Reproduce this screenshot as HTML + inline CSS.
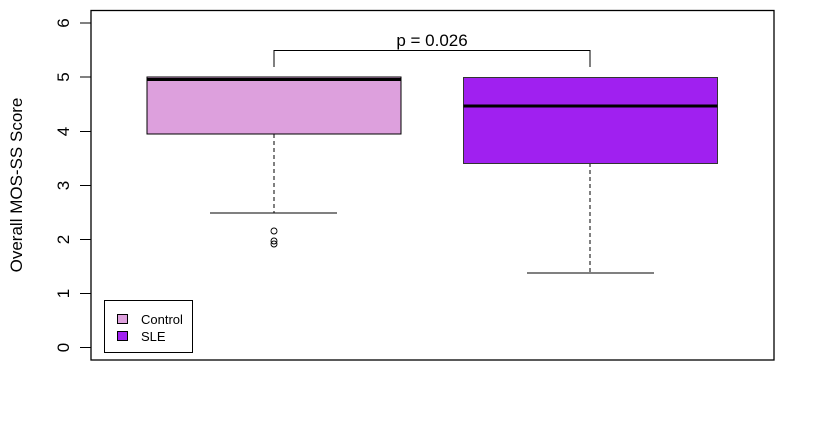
<!DOCTYPE html>
<html><head><style>body{margin:0;background:#fff}</style></head><body>
<svg width="820" height="436" xmlns="http://www.w3.org/2000/svg" font-family="Liberation Sans, sans-serif">
<rect width="820" height="436" fill="#fff"/>
<rect x="91" y="10.5" width="683" height="349.5" fill="none" stroke="#000" stroke-width="1.3"/>
<g stroke="#000" stroke-width="1">
<line x1="80" y1="23" x2="91" y2="23"/><line x1="80" y1="77" x2="91" y2="77"/>
<line x1="80" y1="131.5" x2="91" y2="131.5"/><line x1="80" y1="185.5" x2="91" y2="185.5"/>
<line x1="80" y1="239.5" x2="91" y2="239.5"/><line x1="80" y1="293.5" x2="91" y2="293.5"/>
<line x1="80" y1="347.5" x2="91" y2="347.5"/>
</g>
<g font-size="17" text-anchor="middle" fill="#000">
<text transform="translate(69,23) rotate(-90)">6</text>
<text transform="translate(69,77) rotate(-90)">5</text>
<text transform="translate(69,131.5) rotate(-90)">4</text>
<text transform="translate(69,185.5) rotate(-90)">3</text>
<text transform="translate(69,239.5) rotate(-90)">2</text>
<text transform="translate(69,293.5) rotate(-90)">1</text>
<text transform="translate(69,347.5) rotate(-90)">0</text>
<text transform="translate(22,185) rotate(-90)">Overall MOS-SS Score</text>
</g>
<line x1="274" y1="134" x2="274" y2="213" stroke="#000" stroke-dasharray="4,3"/>
<line x1="210" y1="213" x2="337" y2="213" stroke="#000"/>
<rect x="147" y="77" width="254" height="57" fill="#dda0dd" stroke="#000"/>
<line x1="147" y1="79.5" x2="401" y2="79.5" stroke="#000" stroke-width="3"/>
<g fill="none" stroke="#000" stroke-width="0.9">
<circle cx="274" cy="231" r="3"/><circle cx="274" cy="241" r="3"/><circle cx="274" cy="244" r="3"/>
</g>
<line x1="590" y1="163" x2="590" y2="273" stroke="#000" stroke-dasharray="4,3"/>
<line x1="527" y1="273" x2="654" y2="273" stroke="#000"/>
<rect x="463.5" y="77.5" width="254" height="86" fill="#a020f0" stroke="#333"/>
<line x1="463.5" y1="106" x2="717.5" y2="106" stroke="#000" stroke-width="3"/>
<polyline points="274,67 274,50.5 590,50.5 590,67" fill="none" stroke="#000"/>
<text x="432" y="46" font-size="17" text-anchor="middle">p = 0.026</text>
<rect x="104.5" y="300.5" width="88" height="52" fill="#fff" stroke="#000"/>
<rect x="117.5" y="314.5" width="10" height="9" fill="#dda0dd" stroke="#000"/>
<rect x="117.5" y="331.5" width="10" height="9" fill="#a020f0" stroke="#000"/>
<text x="141" y="324" font-size="13">Control</text>
<text x="141" y="341" font-size="13">SLE</text>
</svg>
</body></html>
